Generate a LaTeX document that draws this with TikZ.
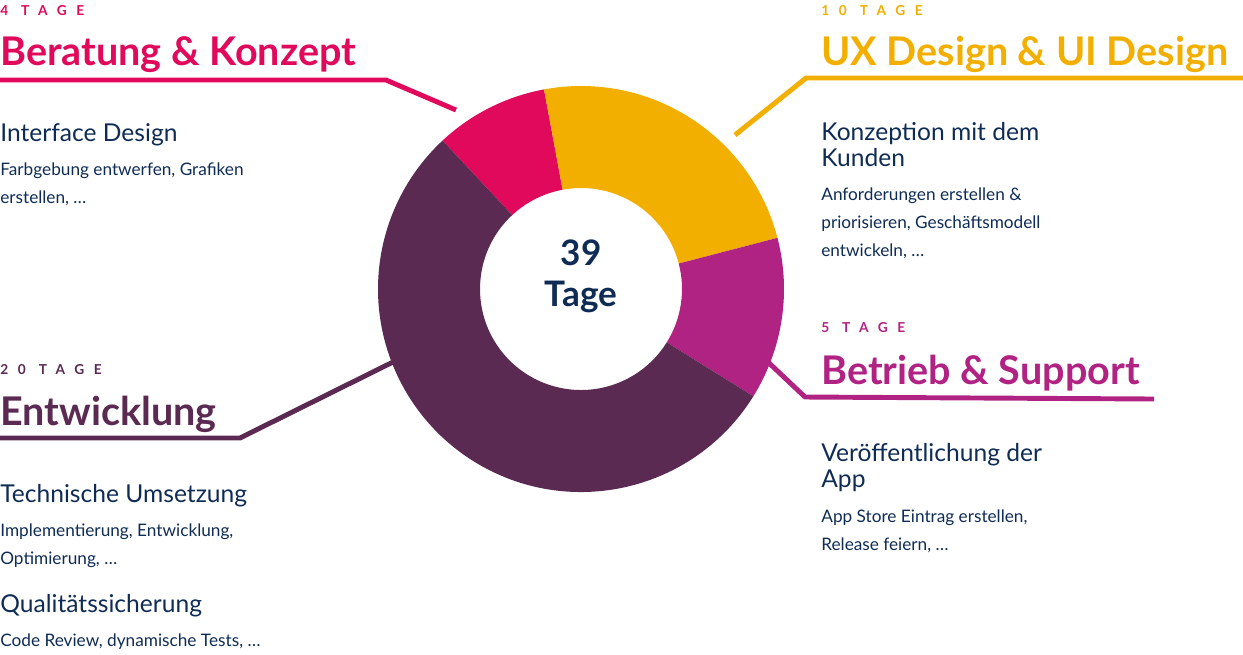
\documentclass[tikz,border=0pt]{standalone}
\usepackage{fontspec}
\setmainfont{Lato}
\usetikzlibrary{positioning,calc}
\definecolor{pinkc}{HTML}{E0095B}
\definecolor{yellowc}{HTML}{F2AF00}
\definecolor{magc}{HTML}{B12383}
\definecolor{purpc}{HTML}{5A2A52}
\definecolor{navy}{HTML}{0F2C55}
\newcommand{\ring}[3]{% start, end (visual degrees), colour
  \fill[#3] ($(c)+(-#1:203)$) arc[start angle=-#1, end angle=-#2, radius=203]
    -- ($(c)+(-#2:101)$) arc[start angle=-#2, end angle=-#1, radius=101] -- cycle;}
\begin{document}
\begin{tikzpicture}[
    x=0.02cm, y=-0.02cm,
    txt/.style={inner sep=0, anchor=base west, align=left, text=navy},
    days/.style={inner sep=0, anchor=base west, font=\fontsize{7.8}{9}\selectfont\bfseries\addfontfeature{LetterSpace=70}},
    title/.style={inner sep=0, anchor=base west, font=\fontsize{22.5}{26}\selectfont\bfseries},
    head/.style={txt, font=\fontsize{14}{14.7}\selectfont},
    body/.style={txt, font=\fontsize{9.8}{15.9}\selectfont},
    lead/.style={line width=2.8pt}
]
\useasboundingbox (0,0) rectangle (1243,654);
\coordinate (c) at (581,289);
% Donut
\ring{133}{100.5}{pinkc}
\ring{100.5}{14.6}{yellowc}
\ring{14.6}{-31.9}{magc}
\ring{-31.9}{-227}{purpc}
\node[inner sep=0, text=navy, align=center, font=\fontsize{20}{23.5}\selectfont\bfseries] (total) at (581,276) {39\\Tage};

% Beratung & Konzept
\node[days, text=pinkc] (d1) at (0,15) {4 TAGE};
\node[title, text=pinkc] (t1) at (0,65) {Beratung \& Konzept};
\node[head] (h1) at (0,141) {Interface Design};
\node[body] (b1) at (0,203) {Farbgebung entwerfen, Grafiken\\erstellen, …};
\coordinate (p1a) at (0,80); \coordinate (p1b) at (386,80); \coordinate (p1c) at (456,110);
\draw[lead, pinkc] (p1a) -- (p1b) -- (p1c);

% UX Design & UI Design
\node[days, text=yellowc] (d2) at (821,15) {10 TAGE};
\node[title, text=yellowc] (t2) at (821,65) {UX Design \& UI Design};
\node[head] (h2) at (821,166) {Konzeption mit dem\\Kunden};
\node[body] (b2) at (821,256) {Anforderungen erstellen \&\\priorisieren, Geschäftsmodell\\entwickeln, …};
\coordinate (p2a) at (1243,78); \coordinate (p2b) at (806,78); \coordinate (p2c) at (735,135);
\draw[lead, yellowc] (p2a) -- (p2b) -- (p2c);

% Betrieb & Support
\node[days, text=magc] (d3) at (821,332) {5 TAGE};
\node[title, text=magc] (t3) at (821,384) {Betrieb \& Support};
\node[head] (h3) at (821,487) {Veröffentlichung der\\App};
\node[body] (b3) at (821,550) {App Store Eintrag erstellen,\\Release feiern, …};
\coordinate (p3a) at (768,362); \coordinate (p3b) at (805,397); \coordinate (p3c) at (1154,399);
\draw[lead, magc] (p3a) -- (p3b) -- (p3c);

% Entwicklung
\node[days, text=purpc] (d4) at (0,374) {20 TAGE};
\node[title, text=purpc] (t4) at (0,425) {Entwicklung};
\node[head] (h4) at (0,502) {Technische Umsetzung};
\node[body] (b4) at (0,564) {Implementierung, Entwicklung,\\Optimierung, …};
\node[head] (h5) at (0,612) {Qualitätssicherung};
\node[body] (b5) at (0,646) {Code Review, dynamische Tests, …};
\coordinate (p4a) at (393,362); \coordinate (p4b) at (240,438); \coordinate (p4c) at (0,438);
\draw[lead, purpc] (p4a) -- (p4b) -- (p4c);
\end{tikzpicture}
\end{document}
